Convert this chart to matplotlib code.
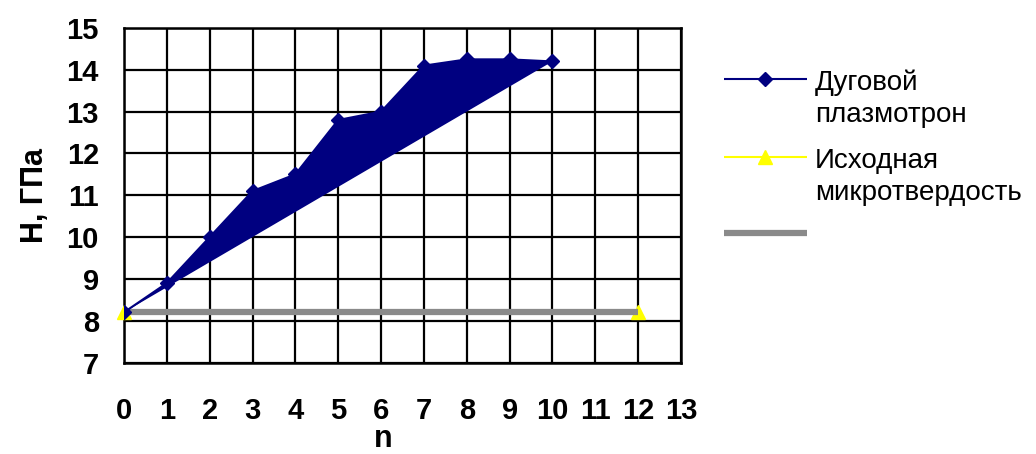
import matplotlib
matplotlib.use("Agg")
import matplotlib.pyplot as plt
from matplotlib.lines import Line2D

plt.rcParams['font.family'] = ['Liberation Sans', 'DejaVu Sans']

# data
n = [0, 1, 2, 3, 4, 5, 6, 7, 8, 9, 10]
H_plasma = [8.2, 8.9, 10.0, 11.1, 11.5, 12.8, 13.0, 14.1, 14.25, 14.25, 14.2]
n_base = [0, 12]
H_base = [8.2, 8.2]
x_ticks = list(range(0, 14))
y_ticks = list(range(7, 16))
legend_labels = ['Дуговой\nплазмотрон', 'Исходная\nмикротвердость', '']

navy = '#000080'
yellow = '#ffff00'
grey = '#8a8a8a'

fig = plt.figure(figsize=(10.36, 4.54), dpi=100)
ax = fig.add_axes([124/1036, 1 - 362.5/454, 557/1036, 334.5/454])

# Excel-style area: polygon closes from last point back to the first
ax.fill(n, H_plasma, color=navy, lw=0, zorder=3)
ax.plot(n, H_plasma, color=navy, lw=1.5, marker='D', ms=7,
        mfc=navy, mec=navy, zorder=4)
ax.plot(n_base, H_base, color=yellow, lw=1.5, marker='^', ms=10,
        mfc=yellow, mec=yellow, zorder=3, clip_on=False)
ax.plot(n_base, H_base, color=grey, lw=4.5, zorder=3.5,
        solid_capstyle='butt')

ax.set_xlim(0, 13)
ax.set_ylim(7, 15)
ax.set_xticks(x_ticks)
ax.set_yticks(y_ticks)
ax.grid(True, color='black', lw=1.6, zorder=1)
ax.set_axisbelow(True)
for s in ax.spines.values():
    s.set_linewidth(1.8)
    s.set_color('black')
ax.tick_params(length=0, labelsize=21)
ax.tick_params(axis='x', pad=25)
ax.tick_params(axis='y', pad=18)
for t in ax.get_xticklabels() + ax.get_yticklabels():
    t.set_fontweight('bold')

fig.text(383/1036, 1 - 447/454, 'n', fontsize=22, fontweight='bold',
         ha='center', va='baseline')
ax.set_ylabel('H, ГПа', fontsize=22, fontweight='bold', labelpad=12)

# legend drawn by hand so the key sits on the first text line
styles = [dict(color=navy, marker='D', ms=7, lw=1.5),
          dict(color=yellow, marker='^', ms=10, lw=1.5),
          dict(color=grey, marker=None, lw=4.5)]
key_y = [79, 157, 233]
for st, yk, lab in zip(styles, key_y, legend_labels):
    y = 1 - yk/454
    ln = Line2D([724/1036, 765/1036, 807/1036], [y, y, y],
                transform=fig.transFigure, markevery=[1],
                solid_capstyle='butt', **st)
    if st['marker']:
        ln.set_markerfacecolor(st['color'])
        ln.set_markeredgecolor(st['color'])
    fig.add_artist(ln)
    if lab:
        fig.text(815/1036, y + 9/454, lab, fontsize=20, ha='left', va='top',
                 linespacing=1.3)

fig.savefig('out.png', dpi=100)
